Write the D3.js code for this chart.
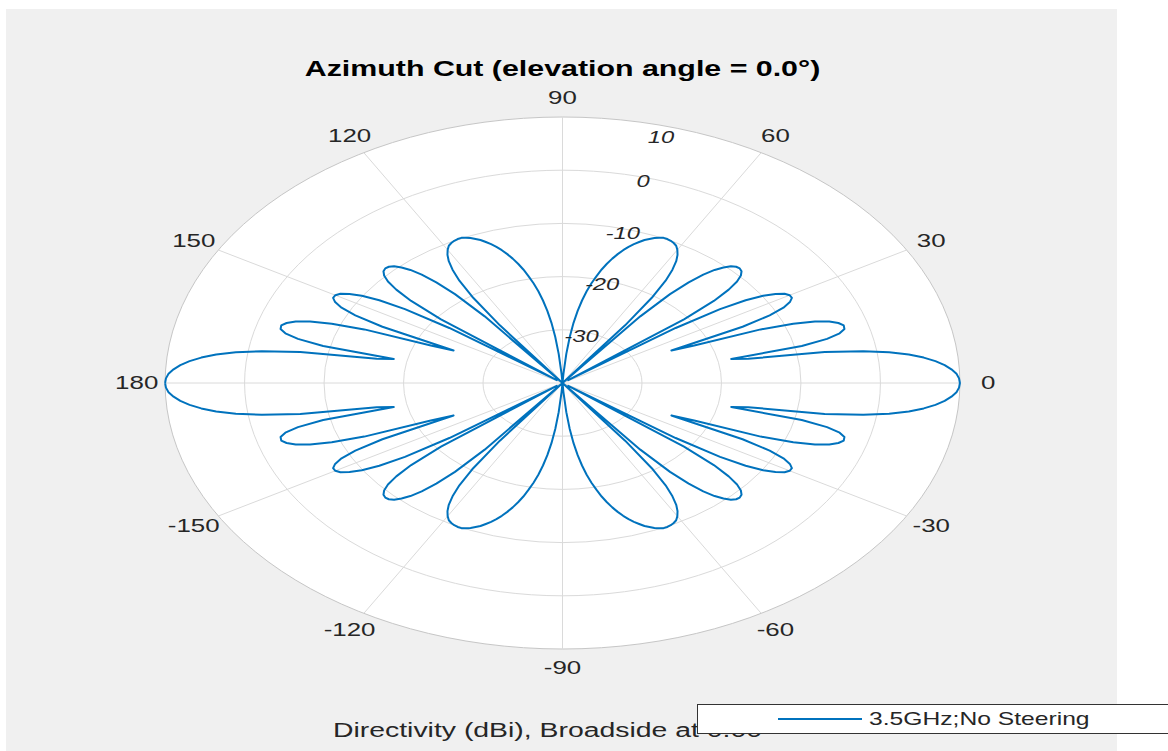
<!DOCTYPE html>
<html>
<head>
<meta charset="utf-8">
<script src="https://cdn.jsdelivr.net/npm/d3@7"></script>
<style>
  html, body { margin: 0; padding: 0; background: #ffffff; }
  text { font-family: "Liberation Sans", Arial, Helvetica, sans-serif; fill: #262626; }
</style>
</head>
<body>
<div id="chart"></div>
<script>
// Directivity (dBi) of the azimuth cut at 1 degree steps, 0..90 deg.
// The cut is symmetric about both the 0-180 and the 90/-90 axes, so one quadrant is enough.
var quadAngles = d3.range(0, 91);
var quadDirectivity = [
  10.0, 9.9, 9.6, 9.0, 8.2, 7.1, 5.7, 3.9, 1.5, -1.7,
  -6.5, -16.2, -18.3, -9.1, -5.7, -3.9, -3.1, -3.0, -3.5, -4.5,
  -6.2, -8.9, -13.1, -22.0, -25.0, -15.0, -11.0, -8.8, -7.6, -7.0,
  -7.0, -7.4, -8.4, -9.9, -12.2, -15.8, -22.4, -39.1, -20.6, -15.5,
  -12.7, -10.9, -9.8, -9.2, -9.0, -9.1, -9.5, -10.3, -11.4, -13.0,
  -15.3, -18.5, -24.1, -43.0, -26.6, -20.2, -16.8, -14.6, -13.0, -11.9,
  -11.1, -10.5, -10.2, -10.0, -9.9, -9.9, -10.1, -10.4, -10.8, -11.2,
  -11.8, -12.4, -13.1, -13.9, -14.8, -15.8, -16.9, -18.1, -19.5, -20.9,
  -22.5, -24.3, -26.3, -28.6, -31.3, -34.5, -38.3, -43.3, -50.4, -62.4,
  -100
];

var magTicks = [-30, -20, -10, 0, 10];
var magRange = [-40, 10];
var angleTicks = [0, 30, 60, 90, 120, 150, 180, -150, -120, -90, -60, -30];

var titleText = "Azimuth Cut (elevation angle = 0.0\u00B0)";
var footText = "Directivity (dBi), Broadside at 0.00";
var seriesName = "3.5GHz;No Steering";

// full cut -180..180 from the quadrant
var pattern = d3.range(-180, 181).map(function(az) {
  var a = Math.abs(az);
  if (a > 90) a = 180 - a;
  return { az: az, d: quadDirectivity[quadAngles.indexOf(a)] };
});

var svgWidth = 1168, svgHeight = 751;
var cx = 562.5, cy = 383;
var R = 266;
var sx = 1.494;      // the figure is stretched horizontally
var txtK = 1.4;      // text stretch to match
var lineColor = "#0072BD";

var svg = d3.select("#chart").append("svg")
  .attr("width", svgWidth)
  .attr("height", svgHeight);

svg.append("rect")
  .attr("x", 6).attr("y", 9)
  .attr("width", 1111).attr("height", svgHeight - 9)
  .attr("fill", "#f0f0f0");

var rScale = d3.scaleLinear().domain(magRange).range([0, R]).clamp(true);

function px(az, r) { return cx + sx * r * Math.cos(az * Math.PI / 180); }
function py(az, r) { return cy - r * Math.sin(az * Math.PI / 180); }

function label(parent, x, y, str, size, opts) {
  opts = opts || {};
  return parent.append("text")
    .attr("transform", "translate(" + x + "," + y + ") scale(" + (opts.k || txtK) + ",1)")
    .attr("text-anchor", opts.anchor || "middle")
    .attr("dominant-baseline", "central")
    .attr("font-size", size)
    .attr("font-weight", opts.weight || "normal")
    .attr("font-style", opts.style || "normal")
    .style("fill", opts.fill || "#262626")
    .text(str);
}

var grid = svg.append("g");

// plot disc
grid.append("ellipse")
  .attr("cx", cx).attr("cy", cy)
  .attr("rx", sx * rScale(magRange[1])).attr("ry", rScale(magRange[1]))
  .attr("fill", "#ffffff");

// rings
grid.selectAll("ellipse.ring")
  .data(magTicks)
  .enter().append("ellipse")
  .attr("class", "ring")
  .attr("cx", cx).attr("cy", cy)
  .attr("rx", d => sx * rScale(d)).attr("ry", d => rScale(d))
  .attr("fill", "none")
  .attr("stroke", d => d === magRange[1] ? "#c6c6c6" : "#dadada")
  .attr("stroke-width", 1);

// spokes
grid.selectAll("line.spoke")
  .data(angleTicks)
  .enter().append("line")
  .attr("class", "spoke")
  .attr("x1", cx).attr("y1", cy)
  .attr("x2", d => px(d, R)).attr("y2", d => py(d, R))
  .attr("stroke", "#dadada")
  .attr("stroke-width", 1);

// pattern
var line = d3.line()
  .x(d => px(d.az, rScale(d.d)))
  .y(d => py(d.az, rScale(d.d)));

svg.append("path")
  .datum(pattern)
  .attr("d", line)
  .attr("fill", "none")
  .attr("stroke", lineColor)
  .attr("stroke-width", 2)
  .attr("stroke-linejoin", "round");

// angle labels
angleTicks.forEach(function(a) {
  label(svg, px(a, R + 19), py(a, R + 19), String(a), 18.5);
});

// magnitude labels along 75 deg
magTicks.forEach(function(v) {
  var r = rScale(v) - (v === magRange[1] ? 11 : 4);
  label(svg, px(75, r), py(75, r), String(v), 17, { style: "italic" });
});

// title
label(svg, cx, 69, titleText, 22, { weight: "bold", fill: "#000000", k: 1.38 });

// bottom caption
label(svg, 333, 730, footText, 20, { anchor: "start", k: 1.42 });

// legend
var leg = svg.append("g");
leg.append("rect")
  .attr("x", 697.5).attr("y", 704.5)
  .attr("width", 520).attr("height", 29)
  .attr("fill", "#ffffff")
  .attr("stroke", "#333333")
  .attr("stroke-width", 1);
leg.append("line")
  .attr("x1", 778).attr("x2", 862)
  .attr("y1", 719).attr("y2", 719)
  .attr("stroke", lineColor)
  .attr("stroke-width", 2);
label(leg, 869, 719, seriesName, 18, { anchor: "start", k: 1.37 });
</script>
</body>
</html>
